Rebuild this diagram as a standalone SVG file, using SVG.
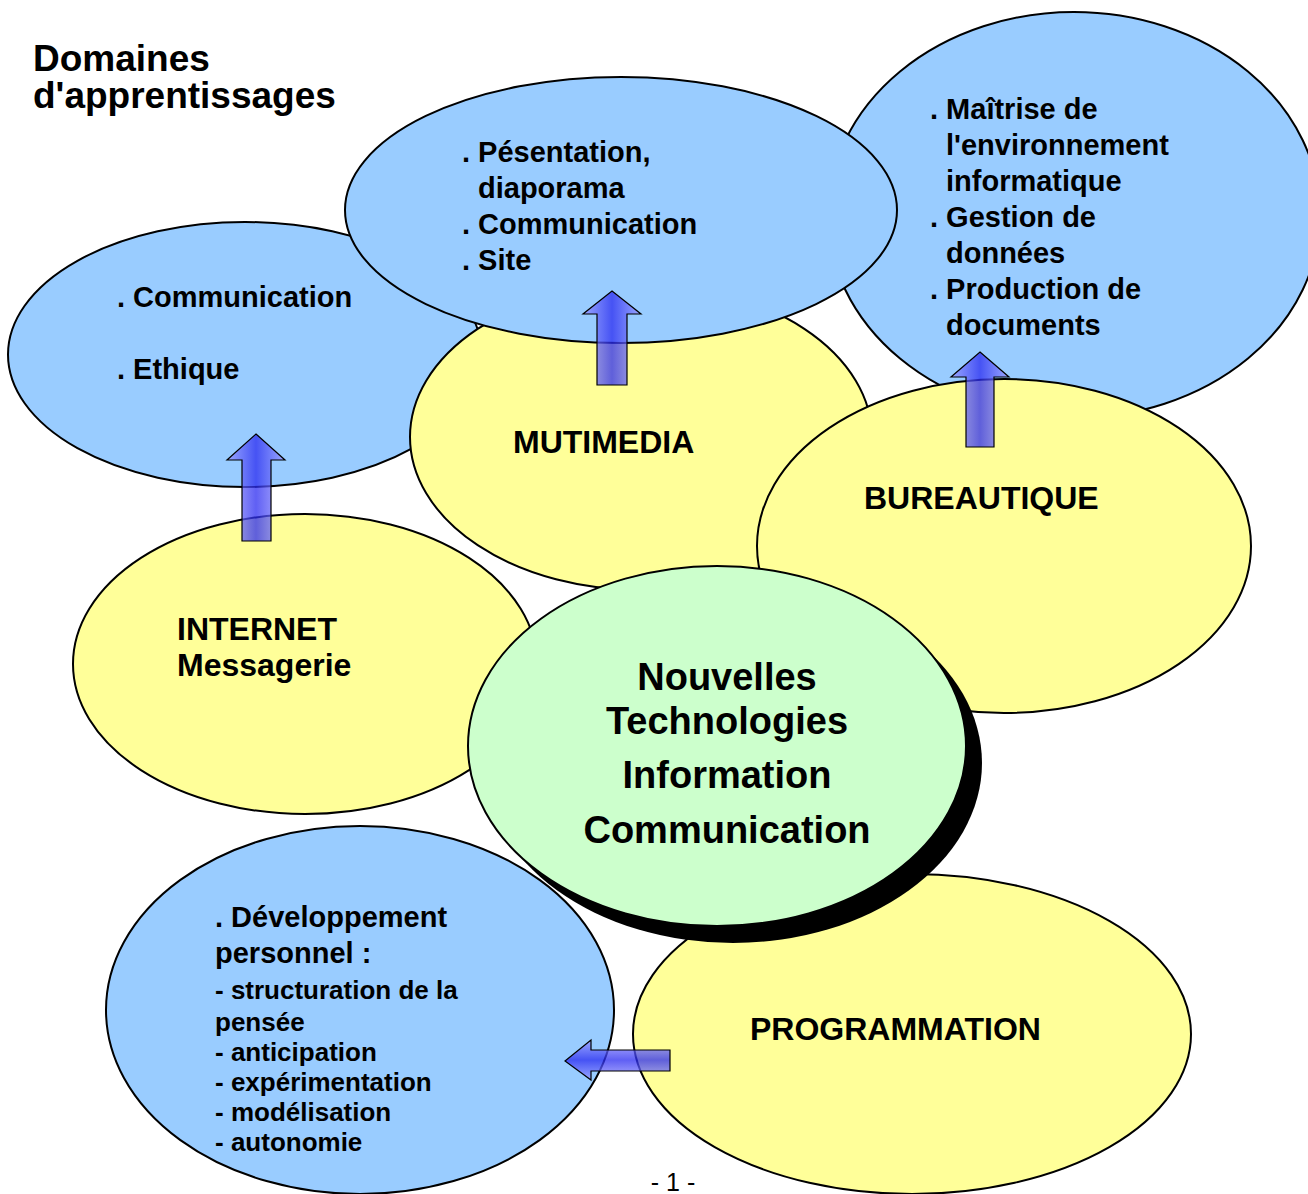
<svg xmlns="http://www.w3.org/2000/svg" width="1308" height="1194" viewBox="0 0 1308 1194">
<defs>
<linearGradient id="gv" x1="0" y1="0" x2="1" y2="0">
<stop offset="0" stop-color="#9a9aff"/>
<stop offset="0.5" stop-color="#2a2af0"/>
<stop offset="1" stop-color="#9a9aff"/>
</linearGradient>
<linearGradient id="gh" x1="0" y1="0" x2="0" y2="1">
<stop offset="0" stop-color="#9a9aff"/>
<stop offset="0.5" stop-color="#2a2af0"/>
<stop offset="1" stop-color="#9a9aff"/>
</linearGradient>
</defs>
<style>
.blue{fill:#99ccff;stroke:#000;stroke-width:2}
.yel{fill:#ffff99;stroke:#000;stroke-width:2}
.grn{fill:#ccffcc;stroke:#000;stroke-width:2}
text{font-family:"Liberation Sans",Arial,sans-serif;font-weight:bold;fill:#000}
.b{font-size:29px}
.s{font-size:26px}
.y{font-size:32px}
.c{font-size:38px;text-anchor:middle}
.t{font-size:37px}
.arr{stroke:#000;stroke-width:1.2;fill-opacity:0.75}
</style>
<rect width="1308" height="1194" fill="#fff"/>
<g id="title"><text class="t" x="33" y="71">Domaines<tspan x="33" y="108">d'apprentissages</tspan></text></g>
<g id="bureautique-skills"><ellipse class="blue" cx="1074" cy="215" rx="246" ry="203"/>
<text class="b" x="930" y="119">. Maîtrise de</text>
<text class="b" x="946" y="155">l'environnement</text>
<text class="b" x="946" y="191">informatique</text>
<text class="b" x="930" y="227">. Gestion de</text>
<text class="b" x="946" y="263">données</text>
<text class="b" x="930" y="299">. Production de</text>
<text class="b" x="946" y="335">documents</text></g>
<g id="internet-skills"><ellipse class="blue" cx="245" cy="354.5" rx="237" ry="132.5"/>
<text class="b" x="117" y="307">. Communication</text>
<text class="b" x="117" y="379">. Ethique</text></g>
<g id="multimedia"><ellipse class="yel" cx="641" cy="437" rx="231" ry="153"/>
<text class="y" x="513" y="453">MUTIMEDIA</text></g>
<g id="multimedia-skills"><ellipse class="blue" cx="621" cy="210" rx="276" ry="133"/>
<text class="b" x="462" y="162">. Pésentation,</text>
<text class="b" x="478" y="198">diaporama</text>
<text class="b" x="462" y="234">. Communication</text>
<text class="b" x="462" y="270">. Site</text></g>
<g id="bureautique"><ellipse class="yel" cx="1004" cy="546" rx="247" ry="167"/>
<text class="y" x="864" y="509">BUREAUTIQUE</text></g>
<g id="internet"><ellipse class="yel" cx="305" cy="664" rx="232" ry="150"/>
<text class="y" x="177" y="640">INTERNET</text>
<text class="y" x="177" y="676">Messagerie</text></g>
<g id="programmation"><ellipse class="yel" cx="912" cy="1034" rx="279" ry="160"/>
<text class="y" x="750" y="1040">PROGRAMMATION</text></g>
<g id="programmation-skills"><ellipse class="blue" cx="360" cy="1010" rx="254" ry="184"/>
<text class="b" x="215" y="927">. Développement</text>
<text class="b" x="215" y="963">personnel :</text>
<text class="s" x="215" y="999">- structuration de la</text>
<text class="s" x="215" y="1031">pensée</text>
<text class="s" x="215" y="1061">- anticipation</text>
<text class="s" x="215" y="1091">- expérimentation</text>
<text class="s" x="215" y="1121">- modélisation</text>
<text class="s" x="215" y="1151">- autonomie</text></g>
<g id="ntic"><ellipse cx="733" cy="763" rx="249" ry="180" fill="#000"/>
<ellipse class="grn" cx="717" cy="746" rx="249" ry="180"/>
<text class="c" x="727" y="690">Nouvelles</text>
<text class="c" x="727" y="734">Technologies</text>
<text class="c" x="727" y="788">Information</text>
<text class="c" x="727" y="843">Communication</text></g>
<g id="connectors">
<path class="arr" fill="url(#gv)" d="M256,434 L285,460 L271,460 L271,541 L242,541 L242,460 L227,460 Z"/>
<path class="arr" fill="url(#gv)" d="M612,291 L641,314 L627,314 L627,385 L597,385 L597,314 L583,314 Z"/>
<path class="arr" fill="url(#gv)" d="M980,352 L1009,377 L994,377 L994,447 L966,447 L966,377 L951,377 Z"/>
<path class="arr" fill="url(#gh)" d="M565,1061 L591,1040 L591,1050 L670,1050 L670,1071 L591,1071 L591,1080 Z"/>
</g>
<g id="page"><text x="673" y="1191" style="font-weight:normal;font-size:25px;text-anchor:middle">- 1 -</text></g>
</svg>
